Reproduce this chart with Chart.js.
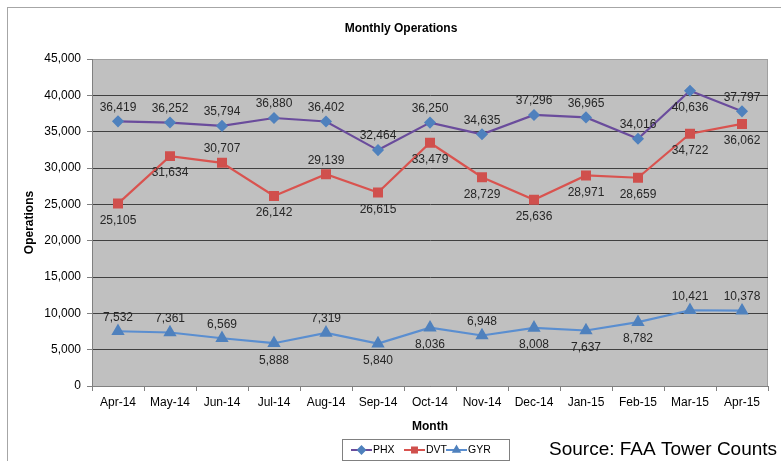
<!DOCTYPE html>
<html>
<head>
<meta charset="utf-8">
<script src="https://cdn.jsdelivr.net/npm/chart.js@4.4.1/dist/chart.umd.min.js"></script>
<style>
  html, body { margin: 0; padding: 0; background: #fff; }
  #wrap { width: 781px; height: 461px; position: relative; }
</style>
</head>
<body>
<div id="wrap"><canvas id="opsChart" width="781" height="461"></canvas></div>
<script>
const months = ['Apr-14', 'May-14', 'Jun-14', 'Jul-14', 'Aug-14', 'Sep-14', 'Oct-14', 'Nov-14', 'Dec-14', 'Jan-15', 'Feb-15', 'Mar-15', 'Apr-15'];
const phx = [36419, 36252, 35794, 36880, 36402, 32464, 36250, 34635, 37296, 36965, 34016, 40636, 37797];
const dvt = [25105, 31634, 30707, 26142, 29139, 26615, 33479, 28729, 25636, 28971, 28659, 34722, 36062];
const gyr = [7532, 7361, 6569, 5888, 7319, 5840, 8036, 6948, 8008, 7637, 8782, 10421, 10378];
// where each value label sits: a = above, b = below
const phxSide = ['a', 'a', 'a', 'a', 'a', 'a', 'a', 'a', 'a', 'a', 'a', 'b', 'a'];
const dvtSide = ['b', 'b', 'a', 'b', 'a', 'b', 'b', 'b', 'b', 'b', 'b', 'b', 'b'];
const gyrSide = ['a', 'a', 'a', 'b', 'a', 'b', 'b', 'a', 'b', 'b', 'b', 'a', 'a'];
const yTicks = [0, 5000, 10000, 15000, 20000, 25000, 30000, 35000, 40000, 45000];

const FONT = 'Liberation Sans, Arial, sans-serif';
const fmt = v => v.toLocaleString('en-US');

const frame = {
    id: 'frame',
    beforeDraw(chart) {
        const ctx = chart.ctx;
        const a = chart.chartArea;
        ctx.save();
        ctx.fillStyle = '#fff';
        ctx.fillRect(0, 0, chart.width, chart.height);
        ctx.strokeStyle = '#a6a6a6';
        ctx.lineWidth = 1;
        ctx.strokeRect(7.5, 7.5, 800, 500);
        ctx.fillStyle = '#c0c0c0';
        ctx.fillRect(a.left, a.top, a.right - a.left, a.bottom - a.top);
        ctx.strokeStyle = '#a0a0a0';
        ctx.strokeRect(a.left + 0.5, a.top + 0.5, a.right - a.left - 1, a.bottom - a.top);
        ctx.restore();
    },
    afterDraw(chart) {
        const ctx = chart.ctx;
        ctx.save();
        ctx.fillStyle = '#000';
        ctx.font = 'bold 12px ' + FONT;
        ctx.textAlign = 'center';
        ctx.textBaseline = 'middle';
        ctx.fillText('Monthly Operations', 401, 29);

        // legend
        ctx.fillStyle = '#fff';
        ctx.fillRect(342, 439, 167, 21);
        ctx.strokeStyle = '#808080';
        ctx.strokeRect(342.5, 439.5, 167, 21);
        const items = [[351, 0], [404, 1], [446, 2]];
        ctx.font = '10.5px ' + FONT;
        ctx.textAlign = 'left';
        items.forEach(([x, i]) => {
            const ds = chart.data.datasets[i];
            ctx.strokeStyle = ds.borderColor;
            ctx.lineWidth = 2;
            ctx.beginPath();
            ctx.moveTo(x, 450);
            ctx.lineTo(x + 21, 450);
            ctx.stroke();
            ctx.fillStyle = ds.pointBackgroundColor;
            ctx.strokeStyle = ds.pointBorderColor;
            Chart.helpers.drawPoint(ctx, {pointStyle: ds.pointStyle, radius: 3.5, rotation: 0, borderWidth: 1}, x + 10.5, 450);
            ctx.fillStyle = '#000';
            ctx.fillText(ds.label, x + 22, 450);
        });

        ctx.font = '19px ' + FONT;
        ctx.textBaseline = 'alphabetic';
        ctx.fillText('Source: FAA Tower Counts', 549, 455);
        ctx.restore();
    }
};

const valueLabels = {
    id: 'valueLabels',
    afterDatasetsDraw(chart) {
        const ctx = chart.ctx;
        const sides = [phxSide, dvtSide, gyrSide];
        ctx.save();
        ctx.font = '12px ' + FONT;
        ctx.fillStyle = '#262626';
        ctx.textAlign = 'center';
        ctx.textBaseline = 'middle';
        chart.data.datasets.forEach((ds, di) => {
            const meta = chart.getDatasetMeta(di);
            meta.data.forEach((pt, i) => {
                const dy = sides[di][i] === 'a' ? -14 : 17;
                ctx.fillText(fmt(ds.data[i]), pt.x, pt.y + dy);
            });
        });
        ctx.restore();
    }
};

const ctx = document.getElementById('opsChart').getContext('2d');
const opsChart = new Chart(ctx, {
    type: 'line',
    data: {
        labels: months,
        datasets: [{
            label: 'PHX',
            data: phx,
            borderColor: '#6a4c9c',
            borderWidth: 2.2,
            pointStyle: 'rectRot',
            pointRadius: 4.5,
            pointBackgroundColor: '#4f81bd',
            pointBorderColor: '#4f81bd',
            tension: 0
        }, {
            label: 'DVT',
            data: dvt,
            borderColor: '#d9534f',
            borderWidth: 2.2,
            pointStyle: 'rect',
            pointRadius: 5.5,
            pointBackgroundColor: '#d0504d',
            pointBorderColor: '#d0504d',
            tension: 0
        }, {
            label: 'GYR',
            data: gyr,
            borderColor: '#5a8ed0',
            borderWidth: 2.2,
            pointStyle: 'triangle',
            pointRadius: 5.5,
            pointBackgroundColor: '#4f81bd',
            pointBorderColor: '#4f81bd',
            tension: 0
        }]
    },
    options: {
        responsive: false,
        animation: false,
        layout: {
            padding: {left: 8, right: 13, top: 59, bottom: 26}
        },
        plugins: {
            legend: {display: false},
            title: {display: false},
            tooltip: {enabled: false}
        },
        scales: {
            x: {
                offset: true,
                afterFit: s => { s.height = 49; },
                grid: {
                    offset: true,
                    drawOnChartArea: false,
                    color: '#808080',
                    tickLength: 5
                },
                border: {color: '#808080'},
                ticks: {
                    color: '#000',
                    font: {family: FONT, size: 12},
                    maxRotation: 0,
                    autoSkip: false,
                    padding: 4
                },
                title: {
                    display: true,
                    text: 'Month',
                    color: '#000',
                    font: {family: FONT, size: 12, weight: 'bold'},
                    padding: {top: 0, bottom: 1}
                }
            },
            y: {
                min: 0,
                max: 45000,
                afterFit: s => { s.width = 84; },
                afterBuildTicks: s => { s.ticks = yTicks.map(v => ({value: v})); },
                grid: {
                    color: c => c.tick && c.tick.value === 45000 ? '#a0a0a0' : '#404040',
                    tickColor: '#808080',
                    tickLength: 5
                },
                border: {color: '#808080'},
                ticks: {
                    color: '#000',
                    font: {family: FONT, size: 12},
                    padding: 6,
                    callback: v => fmt(v)
                },
                title: {
                    display: true,
                    text: 'Operations',
                    color: '#000',
                    font: {family: FONT, size: 12, weight: 'bold'},
                    padding: {top: 14, bottom: 0}
                }
            }
        }
    },
    plugins: [frame, valueLabels]
});
</script>
</body>
</html>
